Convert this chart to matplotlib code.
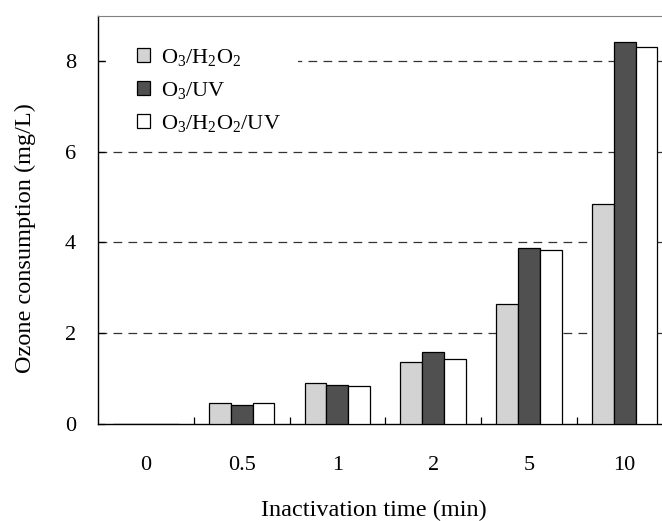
import numpy as np
import matplotlib
matplotlib.use("Agg")
import matplotlib.pyplot as plt
from matplotlib.patches import Rectangle

plt.rcParams["font.family"] = ["Liberation Serif", "DejaVu Serif"]
plt.rcParams["mathtext.fontset"] = "custom"
plt.rcParams["mathtext.rm"] = "Liberation Serif"
plt.rcParams["mathtext.default"] = "regular"

# ── data ─────────────────────────────────────────────────────────────────────
times = ["0", "0.5", "1", "2", "5", "10"]
series = ["O$_3$/H$_2$O$_2$", "O$_3$/UV", "O$_3$/H$_2$O$_2$/UV"]
o3_h2o2    = [0.0, 0.46, 0.90, 1.35, 2.64, 4.85]
o3_uv      = [0.0, 0.41, 0.85, 1.58, 3.88, 8.43]
o3_h2o2_uv = [0.0, 0.46, 0.82, 1.42, 3.83, 8.32]

colors = ["#d3d3d3", "#505050", "#ffffff"]

fig = plt.figure(figsize=(6.62, 5.21), dpi=100)
ax = fig.add_axes([0.148, 0.187, 0.868, 0.782])

x = np.arange(len(times))
w = 0.228
for i, (vals, lbl, col) in enumerate(zip([o3_h2o2, o3_uv, o3_h2o2_uv], series, colors)):
    ax.bar(x + (i - 1) * w, vals, width=w, color=col, edgecolor="black",
           linewidth=0.9, label=lbl, zorder=3)

# dashed reference lines
for yv in [2, 4, 6, 8]:
    ax.axhline(yv, color="#333333", lw=0.9, dashes=(7, 5), zorder=1)

ax.set_xlim(-0.5, len(times) - 0.5)
ax.set_ylim(0, 9)
ax.set_yticks([0, 2, 4, 6, 8])
ax.tick_params(axis="y", direction="in", length=5, width=0.9, pad=16, labelsize=16)

# tick marks between categories, labels at category centres
ax.set_xticks(np.arange(len(times) - 1) + 0.5)
ax.set_xticklabels([])
ax.set_xticks(x, minor=True)
ax.set_xticklabels(times, minor=True)
ax.tick_params(axis="x", which="major", direction="in", length=5, width=0.9)
ax.tick_params(axis="x", which="minor", length=0, pad=23, labelsize=16)

ax.spines["top"].set_color("#808080")
for s in ["left", "bottom"]:
    ax.spines[s].set_linewidth(1.0)

ax.set_ylabel("Ozone consumption (mg/L)", fontsize=17.5)
ax.yaxis.set_label_coords(-0.127, 0.455)
ax.set_xlabel("Inactivation time (min)", fontsize=17.5)
ax.xaxis.set_label_coords(0.48, -0.213)
ax.xaxis.label.set_va("center")
ax.yaxis.label.set_va("center")

# white backing behind the legend (hides part of the 8 line, as in the original)
ax.add_patch(Rectangle((0.014, 0.72), 0.334, 0.23, transform=ax.transAxes,
                       facecolor="white", edgecolor="none", zorder=2))

leg = ax.legend(loc="upper left", bbox_to_anchor=(0.048, 0.952), frameon=False,
                fontsize=16, handlelength=0.58, handleheight=0.58,
                handletextpad=0.5, labelspacing=0.54, borderpad=0.0)
leg.set_zorder(5)
for h in leg.legend_handles:
    h.set_linewidth(0.9)

fig.savefig("out.png", dpi=100)
